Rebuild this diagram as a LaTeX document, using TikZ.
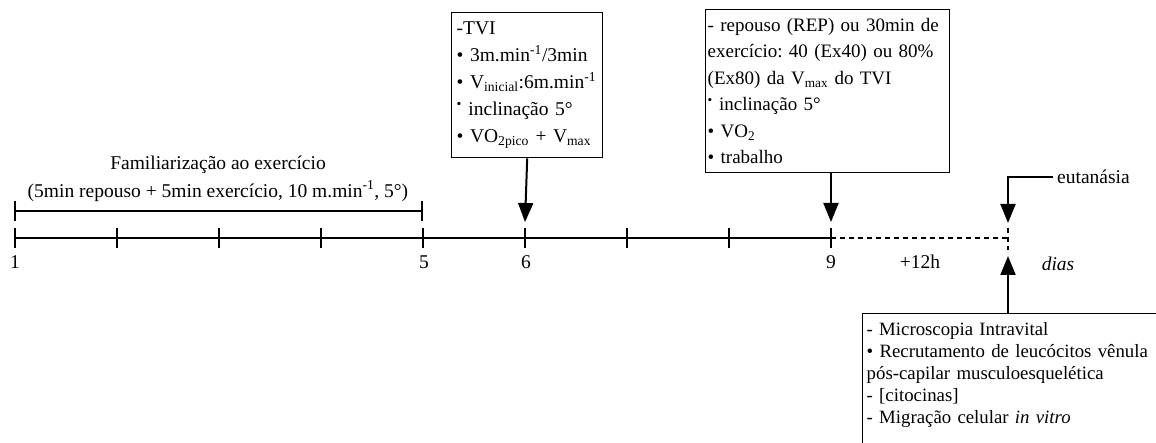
\documentclass[tikz,border=0pt]{standalone}
\usepackage{fontspec}
\setmainfont{Liberation Serif}
\usetikzlibrary{arrows.meta}
\begin{document}
\frenchspacing
\begin{tikzpicture}[x=1pt,y=-1pt,
  every node/.style={font=\fontsize{19.5}{22}\selectfont, inner sep=0pt},
  box/.style={draw, line width=1.4pt, align=left, inner xsep=5pt, inner ysep=0pt, anchor=north west},
  axis/.style={line width=1.8pt},
  brk/.style={line width=2.6pt},
  dsh/.style={line width=1.8pt, dash pattern=on 5pt off 4pt},
  arr/.style={line width=2pt, -{Triangle[width=15pt,length=19pt]}}]
\useasboundingbox (0,0) rectangle (1156,443);
\clip (0,0) rectangle (1156,443);
% timeline
\foreach \i/\x in {1/15,2/117,3/219,4/321,5/423,6/525,7/627,8/729,9/831}
  \coordinate (t\i) at (\x,238);
\coordinate (tend) at (1008,238);
\coordinate (tendtop) at (1008,228);
\coordinate (tendbot) at (1008,250);
\draw[axis] (t1) -- (t9);
\foreach \i in {1,...,9}
  \draw[axis] ([yshift=10pt]t\i) -- ([yshift=-10pt]t\i);
\draw[dsh] (t9) -- (tend);
\draw[dsh] (tendtop) -- (tendbot);
% day labels
\node (l1) at (15,262) {1};
\node (l5) at (424,262) {5};
\node (l6) at (526,262) {6};
\node (l9) at (831,262) {9};
\node (h12) at (920,262) {+12h};
\node (dias) at (1058,264) {\itshape dias};
% familiarization bracket
\coordinate (b1) at (15,211);
\coordinate (b5) at (422,211);
\draw[brk] (b1) -- (b5);
\draw[brk] ([yshift=10pt]b1) -- ([yshift=-10pt]b1);
\draw[brk] ([yshift=10pt]b5) -- ([yshift=-10pt]b5);
\node (fam1) at (218,165) {Familiarização ao exercício};
\node (fam2) at (218,191) {(5min repouso + 5min exercício, 10 m.min\textsuperscript{-1}, 5°)};
% TVI box
\node[box, text width=141pt, minimum height=145pt, font=\fontsize{19.5}{27}\selectfont] (tvi) at (451,12) {-TVI\\
\textbullet\ 3m.min\textsuperscript{-1}/3min\\
\textbullet\ V\textsubscript{inicial}:6m.min\textsuperscript{-1}\\
\textsuperscript{\textbullet} inclinação 5°\\
\textbullet\ VO\textsubscript{2pico} + V\textsubscript{max}};
\coordinate (tip6) at (525,222);
\draw[arr] (tvi.south) -- (tip6);
% exercise box
\node[box, text width=240pt, minimum height=163pt, inner xsep=2pt, font=\fontsize{19}{26.5}\selectfont] (ex) at (705,9) {- repouso (REP) ou 30min de\\
exercício: 40 (Ex40) ou 80\%\\
(Ex80) da V\textsubscript{max} do TVI\\
\textsuperscript{\textbullet} inclinação 5°\\
\textbullet\ VO\textsubscript{2}\\
\textbullet\ trabalho};
\coordinate (tip9) at (831,222);
\draw[arr] (ex.south -| tip9) -- (tip9);
% euthanasia
\node[anchor=west] (eut) at (1057,177) {eutanásia};
\coordinate (eutc) at (1008,177);
\coordinate (tipe) at (1008,223);
\draw[arr] ([xshift=-4pt]eut.west) -- (eutc) -- (tipe);
% analysis box
\node[box, text width=300pt, inner xsep=4pt, inner ysep=9pt, font=\fontsize{18.8}{22}\selectfont] (an) at (862,313) {- Microscopia Intravital\\
\textbullet\ Recrutamento de leucócitos vênula\\
pós-capilar musculoesquelética\\
- [citocinas]\\
- Migração celular \textit{in vitro}\\[20pt]\mbox{}};
\coordinate (tipu) at (1008,256);
\draw[arr] (an.north -| tipu) -- (tipu);
\end{tikzpicture}
\end{document}
